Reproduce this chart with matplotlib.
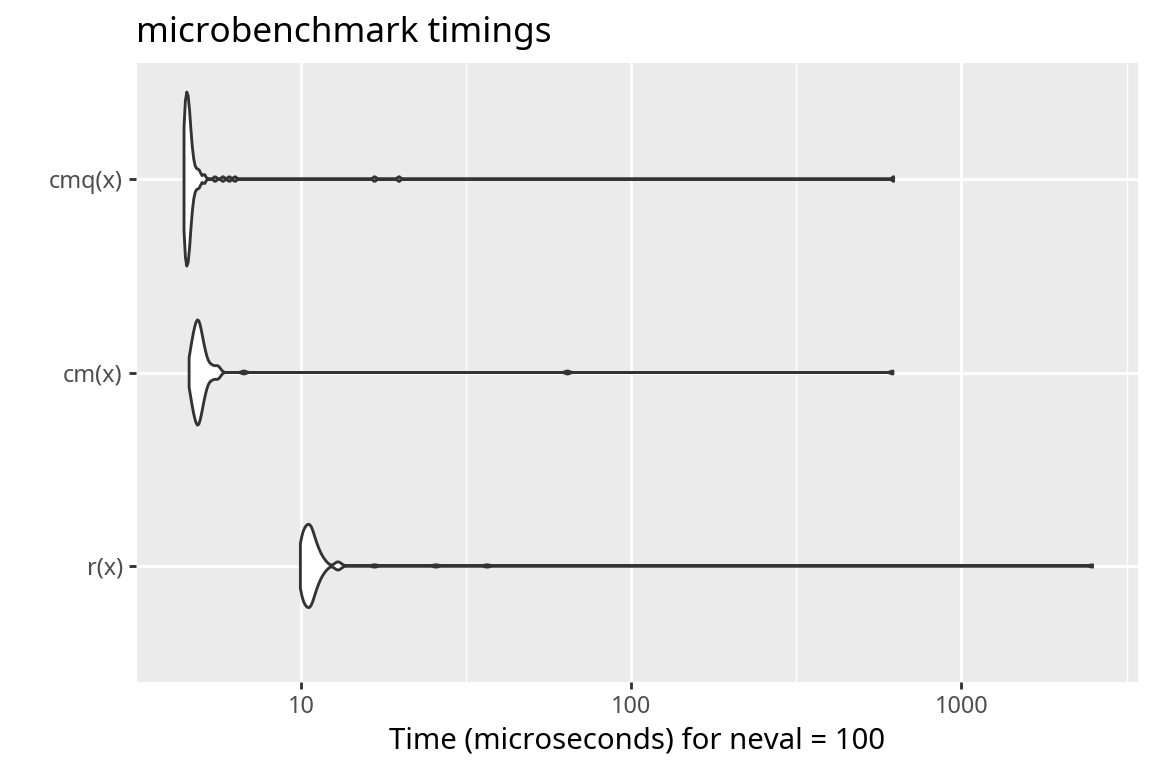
import numpy as np
import matplotlib.pyplot as plt

# timings in microseconds (value, count)
labels = ["r(x)", "cm(x)", "cmq(x)"]

cmq_us = [4.420, 4.445, 4.471, 4.497, 4.523, 4.549, 4.575, 4.601, 4.628, 4.655,
          4.682, 4.709, 4.736, 4.763, 4.791, 4.818, 4.846, 4.874, 4.903, 4.931,
          4.959, 5.08, 5.10, 5.49, 5.80, 6.06, 6.31, 16.7, 19.8, 623.0]
cmq_n = [8, 8, 9, 9, 9, 9, 8, 7, 5, 4,
         3, 2, 2, 1, 1, 1, 1, 1, 1, 1,
         1, 1, 1, 1, 1, 1, 1, 1, 1, 1]

cm_us = [4.580, 4.612, 4.644, 4.676, 4.709, 4.741, 4.774, 4.807, 4.841, 4.874,
         4.908, 4.942, 4.976, 5.011, 5.046, 5.081, 5.116, 5.152, 5.187, 5.223,
         5.260, 5.296, 5.333, 5.370, 5.407, 5.445, 5.521, 5.559, 5.598, 5.637,
         5.676, 6.71, 64.1, 620.0]
cm_n = [2, 3, 3, 4, 5, 5, 6, 6, 7, 7,
        7, 6, 5, 5, 4, 3, 3, 2, 2, 1,
        1, 1, 1, 1, 1, 1, 1, 1, 1, 1,
        1, 1, 1, 1]

r_us = [9.950, 10.042, 10.135, 10.229, 10.323, 10.419, 10.515, 10.612, 10.711, 10.810,
        10.910, 11.011, 11.113, 11.216, 11.319, 11.424, 11.530, 11.637, 11.744, 11.853,
        11.963, 12.760, 12.878, 12.997, 13.118, 16.7, 25.6, 36.6, 2495.0]
r_n = [6, 6, 6, 6, 6, 7, 7, 7, 7, 7,
       5, 4, 4, 3, 3, 2, 2, 1, 1, 1,
       1, 1, 1, 1, 1, 1, 1, 1, 1]

series = [(r_us, r_n), (cm_us, cm_n), (cmq_us, cmq_n)]


def kde_log(vals, counts, npts=512):
    # density on log10 scale, bw.nrd0, trimmed to data range (like geom_violin)
    x = np.log10(np.repeat(vals, counts))
    n = len(x)
    q25, q75 = np.percentile(x, [25, 75])
    bw = 0.9 * min(np.std(x, ddof=1), (q75 - q25) / 1.34) * n ** -0.2
    grid = np.linspace(x.min(), x.max(), npts)
    d = np.exp(-0.5 * ((grid[:, None] - x[None, :]) / bw) ** 2).sum(axis=1)
    d = d / (n * bw * np.sqrt(2 * np.pi))
    return grid, d


dens = [kde_log(v, c) for v, c in series]
dmax = max(d.max() for _, d in dens)

plt.rcParams["font.family"] = ["Noto Sans", "DejaVu Sans"]

W, H = 1152, 768
fig = plt.figure(figsize=(6, 4), dpi=192)
fig.patch.set_facecolor("white")
ax = fig.add_axes([136 / W, 1 - 682 / H, (1138 - 136) / W, (682 - 63) / H])
ax.set_facecolor("#EBEBEB")

for pos, (g, d) in enumerate(dens, start=1):
    hw = 0.45 * d / dmax
    xs = np.concatenate([g, g[::-1]])
    ys = np.concatenate([pos + hw, (pos - hw)[::-1]])
    ax.fill(10 ** xs, ys, facecolor="white", edgecolor="#333333", lw=1.07,
            joinstyle="round", zorder=3)

lo = min(g.min() for g, _ in dens)
hi = max(g.max() for g, _ in dens)
pad = 0.05 * (hi - lo)
ax.set_xscale("log")
ax.set_xlim(10 ** (lo - pad), 10 ** (hi + pad))
ax.set_ylim(0.4, 3.6)

ax.set_xticks([10, 100, 1000])
ax.set_xticklabels(["10", "100", "1000"])
ax.set_xticks([10 ** 0.5, 10 ** 1.5, 10 ** 2.5, 10 ** 3.5], minor=True)
ax.set_xticklabels([], minor=True)
ax.set_yticks([1, 2, 3])
ax.set_yticklabels(labels)

ax.grid(True, which="major", color="white", lw=1.07, zorder=0)
ax.grid(True, which="minor", axis="x", color="white", lw=0.53, zorder=0)
ax.set_axisbelow(True)
for s in ax.spines.values():
    s.set_visible(False)

ax.tick_params(which="major", length=2.75, width=1.07, color="#333333",
               labelcolor="#4D4D4D", labelsize=8.8, pad=2.2)
ax.tick_params(which="minor", length=0)

ax.set_xlabel("Time (microseconds) for neval = 100", fontsize=11, color="black",
              labelpad=2.75)
ax.set_title("microbenchmark timings", fontsize=13.2, loc="left", color="black",
             pad=7.9)

fig.savefig("out.png", dpi=192, facecolor="white")
